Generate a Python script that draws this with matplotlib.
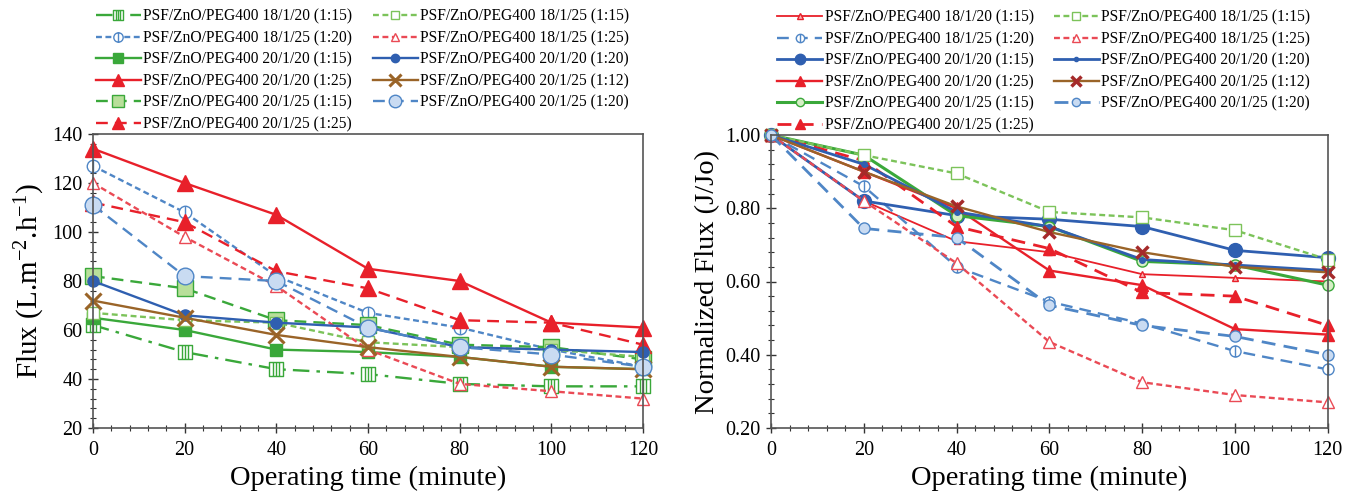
import matplotlib
matplotlib.use("Agg")
import matplotlib.pyplot as plt
from matplotlib.path import Path
from matplotlib.ticker import MultipleLocator, FormatStrFormatter

plt.rcParams["font.family"] = "Liberation Serif"
plt.rcParams["mathtext.fontset"] = "custom"
plt.rcParams["mathtext.rm"] = "Liberation Serif"
plt.rcParams["mathtext.it"] = "Liberation Serif:italic"

time_min = [0, 20, 40, 60, 80, 100, 120]

labels = [
    "PSF/ZnO/PEG400 18/1/20 (1:15)",
    "PSF/ZnO/PEG400 18/1/25 (1:20)",
    "PSF/ZnO/PEG400 20/1/20 (1:15)",
    "PSF/ZnO/PEG400 20/1/20 (1:25)",
    "PSF/ZnO/PEG400 20/1/25 (1:15)",
    "PSF/ZnO/PEG400 20/1/25 (1:25)",
    "PSF/ZnO/PEG400 18/1/25 (1:15)",
    "PSF/ZnO/PEG400 18/1/25 (1:25)",
    "PSF/ZnO/PEG400 20/1/20 (1:20)",
    "PSF/ZnO/PEG400 20/1/25 (1:12)",
    "PSF/ZnO/PEG400 20/1/25 (1:20)",
]

# flux, L.m-2.h-1 (same order as labels)
flux = [
    [62, 51, 44, 42, 38, 37, 37],
    [127, 108, 82, 67, 61, 52, 45],
    [65, 60, 52, 51, 49, 45, 44],
    [134, 120, 107, 85, 80, 63, 61],
    [82, 77, 64, 62, 54, 53, 48],
    [112, 104, 84, 77, 64, 63, 54],
    [67, 64, 63, 55, 53, 52, 49],
    [120, 98, 78, 52, 38, 35, 32],
    [80, 66, 63, 61, 53, 52, 51],
    [72, 65, 58, 53, 49, 45, 44],
    [111, 82, 80, 61, 53, 50, 45],
]

# normalized flux J/Jo (same order as labels)
norm_flux = [
    [1.00, 0.82, 0.71, 0.68, 0.62, 0.61, 0.60],
    [1.00, 0.86, 0.64, 0.545, 0.485, 0.41, 0.36],
    [1.00, 0.82, 0.78, 0.77, 0.75, 0.685, 0.665],
    [1.00, 0.90, 0.80, 0.63, 0.59, 0.47, 0.455],
    [1.00, 0.945, 0.78, 0.75, 0.655, 0.645, 0.59],
    [1.00, 0.93, 0.75, 0.69, 0.57, 0.56, 0.48],
    [1.00, 0.945, 0.895, 0.79, 0.775, 0.74, 0.66],
    [1.00, 0.82, 0.65, 0.435, 0.325, 0.29, 0.27],
    [1.00, 0.92, 0.79, 0.75, 0.66, 0.645, 0.63],
    [1.00, 0.90, 0.805, 0.735, 0.68, 0.64, 0.625],
    [1.00, 0.745, 0.72, 0.535, 0.48, 0.45, 0.40],
]

GREEN = "#3aa83a"
LGREEN = "#7cc35a"
BLUE = "#2f5fb0"
LBLUE = "#4f86c6"
RED = "#e8202a"
PINK = "#ea4a55"
BROWN = "#9a6428"
DRED = "#a52a2a"

# marker shapes: box with bars, circle with a bar
box_bars = Path.make_compound_path(
    Path([(-1, -1), (1, -1), (1, 1), (-1, 1), (-1, -1)], closed=True),
    Path([(-0.4, -1), (-0.4, 1)]),
    Path([(0, -1), (0, 1)]),
    Path([(0.4, -1), (0.4, 1)]),
)
circ_bar = Path.make_compound_path(Path.unit_circle(), Path([(0, -1), (0, 1)]))

DOT = (0, (2.5, 1.5))
DASH = (0, (5, 3))
DASHDOT = (0, (7, 3, 1.5, 3))

left_styles = [
    dict(color=GREEN, ls=DASHDOT, marker=box_bars, ms=10, mfc="white", mec=GREEN),
    dict(color=LBLUE, ls=DOT, marker=circ_bar, ms=9, mfc="white", mec=LBLUE),
    dict(color=GREEN, ls="-", marker="s", ms=9, mfc=GREEN, mec=GREEN),
    dict(color=RED, ls="-", marker="^", ms=11, mfc=RED, mec=RED),
    dict(color=GREEN, ls=DASH, marker="s", ms=12, mfc="#b8df9a", mec=GREEN),
    dict(color=RED, ls=DASH, marker="^", ms=11, mfc=RED, mec=RED),
    dict(color=LGREEN, ls=DOT, marker="s", ms=8, mfc="white", mec=LGREEN),
    dict(color=PINK, ls=DOT, marker="^", ms=8, mfc="white", mec=PINK),
    dict(color=BLUE, ls="-", marker="o", ms=8, mfc=BLUE, mec=BLUE),
    dict(color=BROWN, ls="-", marker="x", ms=12, mew=2.2, mec=BROWN),
    dict(color=LBLUE, ls=DASH, marker="o", ms=12, mfc="#c9dbf2", mec=LBLUE),
]

right_styles = [
    dict(color=RED, ls="-", marker="^", ms=5, mfc="#f6b0b0", mec=RED, lw=1.3),
    dict(color=LBLUE, ls=DASH, marker=circ_bar, ms=8, mfc="white", mec=LBLUE),
    dict(color=BLUE, ls="-", marker="o", ms=10, mfc=BLUE, mec=BLUE, lw=2),
    dict(color=RED, ls="-", marker="^", ms=9, mfc=RED, mec=RED),
    dict(color=GREEN, ls="-", marker="o", ms=8, mfc="#d6efc6", mec=GREEN, lw=2.2),
    dict(color=RED, ls=DASH, marker="^", ms=9, mfc=RED, mec=RED, lw=2),
    dict(color=LGREEN, ls=DOT, marker="s", ms=8, mfc="white", mec=LGREEN),
    dict(color=PINK, ls=DOT, marker="^", ms=8, mfc="white", mec=PINK),
    dict(color=BLUE, ls="-", marker="o", ms=4, mfc=BLUE, mec=BLUE, lw=2),
    dict(color=BROWN, ls="-", marker="x", ms=9, mew=2.5, mec=DRED),
    dict(color=LBLUE, ls=DASH, marker="o", ms=8, mfc="#c9dbf2", mec=LBLUE, lw=2),
]


def style_axes(ax, ylim, major, minor, fmt):
    ax.set_xlim(0, 120)
    ax.set_ylim(*ylim)
    ax.xaxis.set_major_locator(MultipleLocator(20))
    ax.xaxis.set_minor_locator(MultipleLocator(4))
    ax.yaxis.set_major_locator(MultipleLocator(major))
    ax.yaxis.set_minor_locator(MultipleLocator(minor))
    ax.yaxis.set_major_formatter(FormatStrFormatter(fmt))
    ax.tick_params(which="major", direction="inout", length=7, width=1,
                   labelsize=14.5, color="#333333", pad=4)
    ax.tick_params(axis="x", which="major", pad=6)
    ax.tick_params(which="minor", direction="inout", length=4, width=0.8,
                   color="#333333")
    for s in ax.spines.values():
        s.set_color("#555555")
        s.set_linewidth(1.2)
    ax.set_xlabel("Operating time (minute)", fontsize=20.5, labelpad=4)


fig = plt.figure(figsize=(13.45, 5.0), dpi=100)
ax1 = fig.add_axes([0.0691, 0.144, 0.409, 0.588])
ax2 = fig.add_axes([0.5732, 0.144, 0.414, 0.586])

for i in range(len(labels)):
    st = dict(left_styles[i])
    st.setdefault("lw", 1.7)
    ax1.plot(time_min, flux[i], label=labels[i], clip_on=False, **st)

for i in range(len(labels)):
    st = dict(right_styles[i])
    st.setdefault("lw", 1.7)
    ax2.plot(time_min, norm_flux[i], label=labels[i], clip_on=False, **st)

style_axes(ax1, (20, 140), 20, 4, "%d")
style_axes(ax2, (0.2, 1.0), 0.2, 0.04, "%.2f")
ax1.set_ylabel("Flux (L.m$^{-2}$.h$^{-1}$)", fontsize=21, labelpad=4)
ax2.set_ylabel("Normalized Flux (J/Jo)", fontsize=20.5, labelpad=4)

for ax in (ax1, ax2):
    ax.legend(loc="lower center", bbox_to_anchor=(0.49, 1.0), ncol=2,
              frameon=False, fontsize=11.2, labelspacing=0.36,
              handlelength=2.9, handletextpad=0.15, columnspacing=1.3,
              borderaxespad=0.0, borderpad=0.1, markerscale=0.75)

fig.savefig("out.png", dpi=100)
